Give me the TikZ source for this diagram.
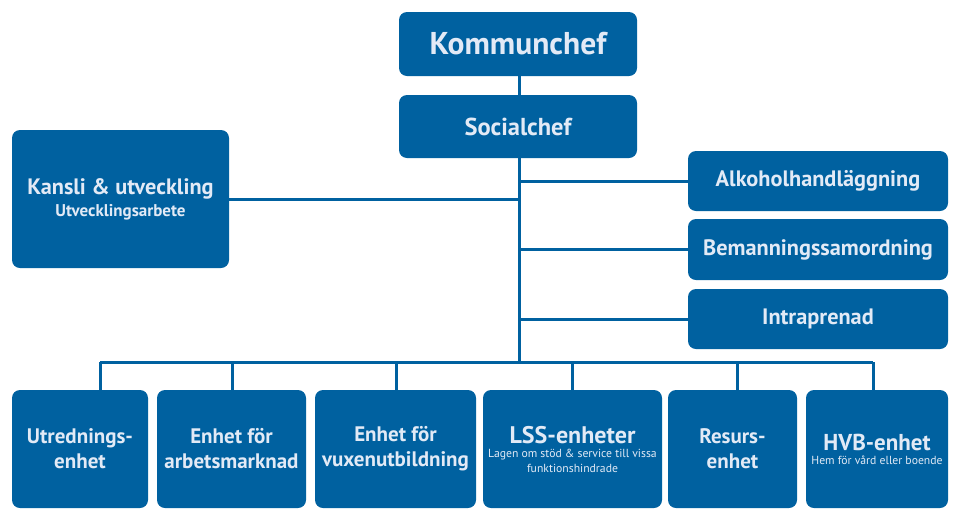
\documentclass[tikz,border=0pt]{standalone}
\usepackage{fontspec}
\setmainfont{PT Sans}
\definecolor{orgblue}{RGB}{0,97,160}
\definecolor{orgtext}{RGB}{226,234,246}
\tikzset{
  box/.style={fill=orgblue, rounded corners=8pt, text=orgtext, font=\bfseries, align=center, inner sep=2pt},
  conn/.style={draw=orgblue, line width=3pt},
  side/.style={box, minimum width=260pt, font=\bfseries\fontsize{22.3}{24}\selectfont},
  bot/.style={box, minimum height=118pt, font=\bfseries\fontsize{21}{25}\selectfont}
}
\begin{document}
\begin{tikzpicture}[x=1pt,y=-1pt]
\useasboundingbox (0,0) rectangle (960,520);
% top
\node[box, minimum width=238pt, minimum height=64pt, font=\bfseries\fontsize{31.5}{34}\selectfont] (k) at (518,44) {Kommunchef};
\node[box, minimum width=238pt, minimum height=63pt, font=\bfseries\fontsize{24.5}{26}\selectfont] (s) at (518,126.5) {Socialchef};
\node[box, minimum width=217pt, minimum height=138pt, font=\bfseries\fontsize{17}{19}\selectfont] (ka) at (120.5,199) {{\fontsize{22.3}{24}\selectfont Kansli \& utveckling}\\[3pt]Utvecklingsarbete};
\node[side, minimum height=60pt] (al) at (818,181) {Alkoholhandläggning};
\node[side, minimum height=61pt] (be) at (818,249.5) {Bemanningssamordning};
\node[side, minimum height=60pt] (in) at (818,319) {Intraprenad};
% bottom
\node[bot, minimum width=136pt] (b1) at (80,449) {Utrednings-\\enhet};
\node[bot, minimum width=149pt] (b2) at (231.5,449) {Enhet för\\arbetsmarknad};
\node[bot, minimum width=161pt] (b3) at (395.5,449) {Enhet för\\vuxenutbildning};
\node[bot, minimum width=179pt, font=\mdseries\fontsize{11.7}{15}\selectfont] (b4) at (572.5,449) {{\bfseries\fontsize{24}{24}\selectfont LSS-enheter}\\[-1pt]Lagen om stöd \& service till vissa\\funktionshindrade};
\node[bot, minimum width=129pt] (b5) at (732.5,449) {Resurs-\\enhet};
\node[bot, minimum width=142pt, font=\mdseries\fontsize{11.7}{15}\selectfont] (b6) at (877,449) {{\bfseries\fontsize{23}{24}\selectfont HVB-enhet}\\[-1pt]Hem för vård eller boende};
% connectors
\coordinate (bus) at (519,362);
\coordinate (d1) at (100,362);
\coordinate (d2) at (232,362);
\coordinate (d3) at (396,362);
\coordinate (d4) at (572,362);
\coordinate (d5) at (737,362);
\coordinate (d6) at (873,362);
\draw[conn] (k.south -| bus) -- (s.north -| bus);
\draw[conn] (s.south -| bus) -- (bus);
\draw[conn] (ka.east) -- (ka.east -| bus);
\draw[conn] (al.west) -- (al.west -| bus);
\draw[conn] (be.west) -- (be.west -| bus);
\draw[conn] (in.west) -- (in.west -| bus);
\draw[conn] (d1) -- (d6);
\foreach \d/\b in {d1/b1,d2/b2,d3/b3,d4/b4,d5/b5,d6/b6} \draw[conn] (\d) -- (\d |- \b.north);
\end{tikzpicture}
\end{document}
